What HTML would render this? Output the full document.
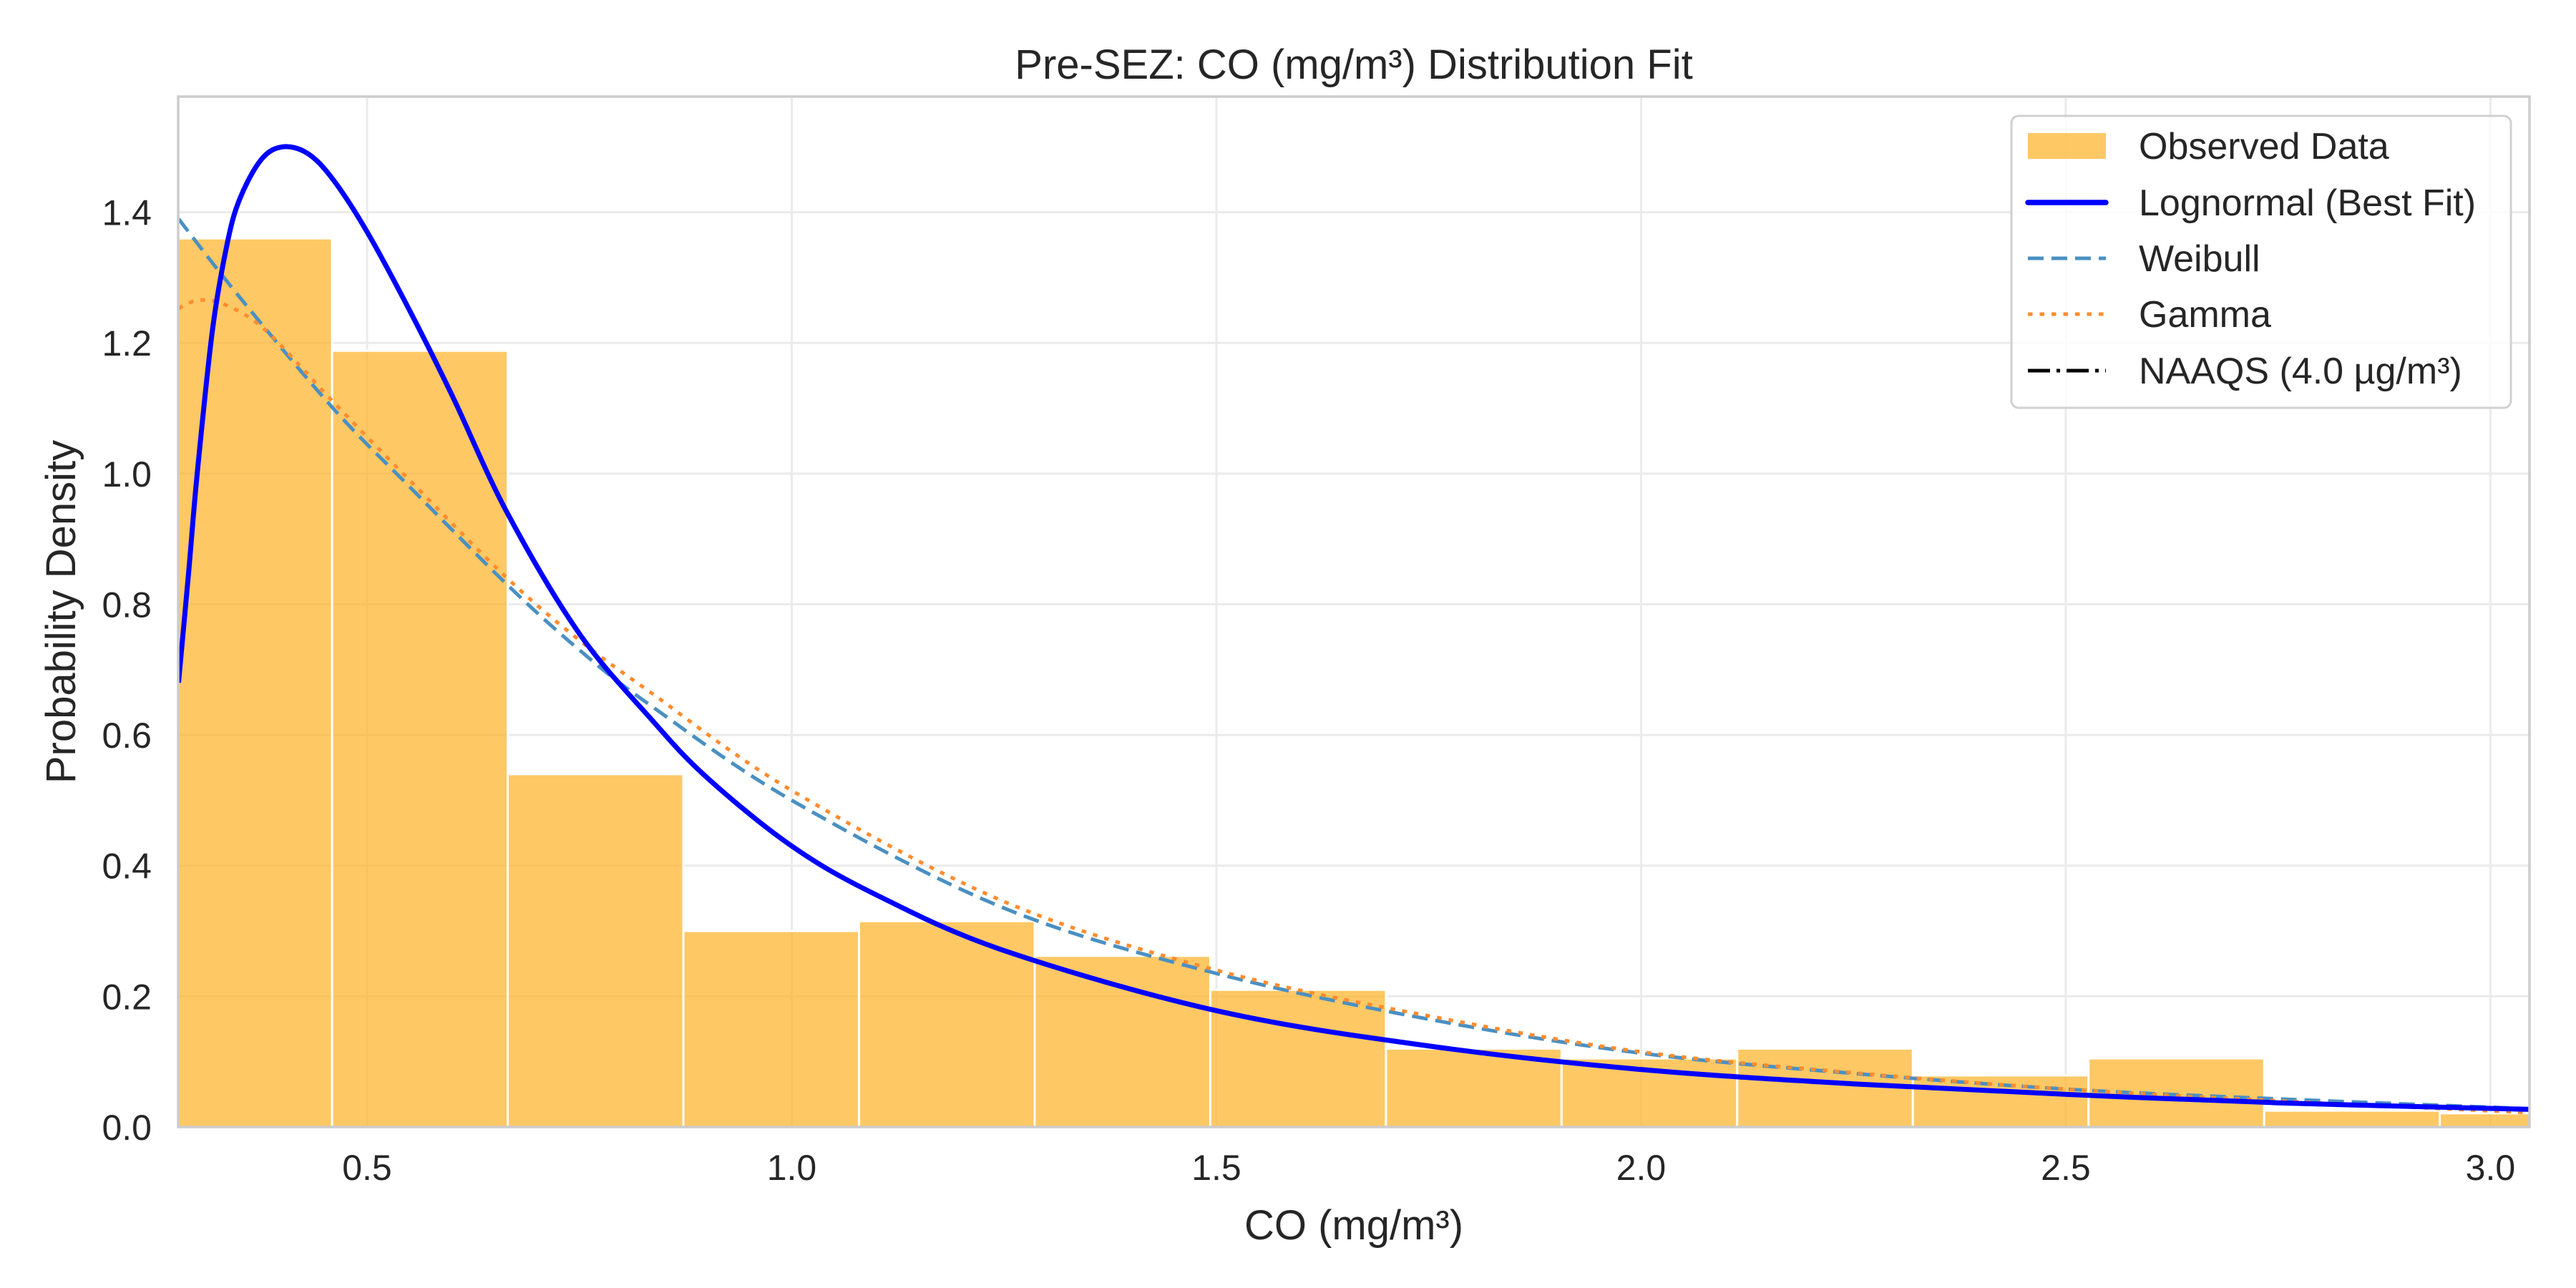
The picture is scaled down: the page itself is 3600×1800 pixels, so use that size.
<!DOCTYPE html>
<html><head><meta charset="utf-8"><style>
html,body{margin:0;padding:0;background:#fff;}
svg{display:block;font-family:"Liberation Sans",sans-serif;}
</style></head><body>
<svg id="chart" width="3600" height="1800" viewBox="0 0 3600 1800" xmlns="http://www.w3.org/2000/svg">
<rect width="3600" height="1800" fill="#fff"/>
<g id="grid"></g>
<g id="bars"></g>
<g id="curves"></g>
<rect x="249" y="135" width="3286" height="1440" fill="none" stroke="#cccccc" stroke-width="3.5"/>
<g id="xticks" font-size="50" fill="#262626" text-anchor="middle"></g>
<g id="yticks" font-size="50" fill="#262626" text-anchor="end"></g>
<text x="1892" y="110" font-size="58" fill="#262626" text-anchor="middle">Pre-SEZ: CO (mg/m³) Distribution Fit</text>
<text x="1892" y="1732" font-size="58" fill="#262626" text-anchor="middle">CO (mg/m³)</text>
<text transform="translate(105,855) rotate(-90)" font-size="58" fill="#262626" text-anchor="middle">Probability Density</text>
<g>
<rect x="2811" y="162" width="698" height="408" rx="10" fill="#fff" fill-opacity="0.8" stroke="#d0d0d0" stroke-width="3"/>
<g><rect x="2834" y="186" width="109" height="36" fill="rgb(254,176,36)" fill-opacity="0.7"/><text x="2989" y="222" font-size="52" fill="#262626">Observed Data</text></g>
<g><line x1="2834" y1="283" x2="2943" y2="283" stroke="#0000ff" stroke-width="7.5" stroke-linecap="round"/><text x="2989" y="301" font-size="52" fill="#262626">Lognormal (Best Fit)</text></g>
<g><line x1="2834" y1="361" x2="2943" y2="361" stroke="#4a90c2" stroke-width="5" stroke-dasharray="22 11"/><text x="2989" y="379" font-size="52" fill="#262626">Weibull</text></g>
<g><line x1="2834" y1="439" x2="2943" y2="439" stroke="#ff8c2e" stroke-width="5" stroke-dasharray="6.5 10"/><text x="2989" y="457" font-size="52" fill="#262626">Gamma</text></g>
<g><line x1="2834" y1="518" x2="2943" y2="518" stroke="#000" stroke-width="5" stroke-dasharray="31 9 5 9 31 9 5 9 5 9"/><text x="2989" y="536" font-size="52" fill="#262626">NAAQS (4.0 µg/m³)</text></g>
</g>
</svg>
<script>
const binStart = 0.252;
const binWidth = 0.2068;
const binHeights = [1.36,1.188,0.54,0.30,0.315,0.262,0.21,0.12,0.105,0.12,0.079,0.105,0.025,0.021];
const xTicks = [0.5,1.0,1.5,2.0,2.5,3.0];
const xTickLabels = ["0.5","1.0","1.5","2.0","2.5","3.0"];
const yTicks = [0,0.2,0.4,0.6,0.8,1.0,1.2,1.4];
const yTickLabels = ["0.0","0.2","0.4","0.6","0.8","1.0","1.2","1.4"];
const lognormX = [0.278,0.29,0.30,0.318,0.335,0.35,0.375,0.40,0.43,0.46,0.50,0.55,0.60,0.665,0.75,0.834,0.90,1.0,1.1,1.25,1.5,1.75,2.0,2.25,2.5,2.75,3.046];
const lognormY = [0.68,0.85,1.0,1.22,1.35,1.42,1.48,1.50,1.49,1.45,1.37,1.25,1.12,0.94,0.755,0.625,0.535,0.43,0.355,0.27,0.178,0.124,0.088,0.066,0.05,0.037,0.027];
const weibullX = [0.278,0.35,0.46,0.55,0.665,0.75,0.834,1.0,1.25,1.5,1.75,2.0,2.25,2.5,2.75,3.046];
const weibullY = [1.39,1.27,1.10,0.98,0.83,0.73,0.645,0.50,0.335,0.235,0.165,0.113,0.082,0.058,0.043,0.028];
const gammaX = [0.278,0.30,0.33,0.38,0.46,0.55,0.665,0.75,0.834,1.0,1.25,1.5,1.75,2.0,2.25,2.5,2.75,3.046];
const gammaY = [1.253,1.265,1.26,1.22,1.11,0.99,0.84,0.745,0.665,0.515,0.345,0.24,0.17,0.115,0.083,0.058,0.04,0.022];

const NS="http://www.w3.org/2000/svg";
const X0=249,X1=3535,Y0=1575,Y1=135;
const xmin=0.2776,xmax=3.046,ymax=1.577;
function sx(v){return X0+(v-xmin)/(xmax-xmin)*(X1-X0);}
function sy(v){return Y0-v/ymax*(Y0-Y1);}
function mk(tag,attrs,parent){const e=document.createElementNS(NS,tag);for(const k in attrs)e.setAttribute(k,attrs[k]);parent.appendChild(e);return e;}
const grid=document.getElementById('grid');
xTicks.forEach(t=>{const l=mk('line',{x1:sx(t),x2:sx(t),y1:Y1,y2:Y0,stroke:'#ebebeb','stroke-width':3},grid);

});
yTicks.forEach(t=>{const l=mk('line',{x1:X0,x2:X1,y1:sy(t),y2:sy(t),stroke:'#ebebeb','stroke-width':3},grid);

});
const bars=document.getElementById('bars');
const cp=mk('clipPath',{id:'clip'},document.getElementById('chart'));
mk('rect',{x:X0,y:Y1,width:X1-X0,height:Y0-Y1},cp);
bars.setAttribute('clip-path','url(#clip)');
binHeights.forEach((h,i)=>{const a=binStart+i*binWidth;const r=mk('rect',{x:sx(a),y:sy(h),width:sx(a+binWidth)-sx(a),height:Y0-sy(h),fill:'rgb(254,176,36)','fill-opacity':0.7,stroke:'#fff','stroke-width':3},bars);

});
function pathFrom(xs,ys){const p=xs.map((x,i)=>[sx(x),sy(ys[i])]);let d='M'+p[0][0]+','+p[0][1];
for(let i=0;i<p.length-1;i++){const a=p[Math.max(0,i-1)],b=p[i],c=p[i+1],e=p[Math.min(p.length-1,i+2)];
const c1=[b[0]+(c[0]-a[0])/6,b[1]+(c[1]-a[1])/6],c2=[c[0]-(e[0]-b[0])/6,c[1]-(e[1]-b[1])/6];
d+=' C'+c1[0]+','+c1[1]+' '+c2[0]+','+c2[1]+' '+c[0]+','+c[1];}return d;}
const curves=document.getElementById('curves');
curves.setAttribute('clip-path','url(#clip)');
const w=mk('path',{d:pathFrom(weibullX,weibullY),fill:'none',stroke:'#4a90c2','stroke-width':5,'stroke-dasharray':'22 11'},curves);


const g=mk('path',{d:pathFrom(gammaX,gammaY),fill:'none',stroke:'#ff8c2e','stroke-width':5,'stroke-dasharray':'6.5 10'},curves);


const ln=mk('path',{d:pathFrom(lognormX,lognormY),fill:'none',stroke:'#0000ff','stroke-width':7},curves);


const xt=document.getElementById('xticks');
xTicks.forEach((t,i)=>{const e=mk('text',{x:sx(t),y:1649},xt);e.textContent=xTickLabels[i];

});
const yt=document.getElementById('yticks');
yTicks.forEach((t,i)=>{const e=mk('text',{x:212,y:sy(t)+18},yt);e.textContent=yTickLabels[i];

});
</script>
</body></html>
